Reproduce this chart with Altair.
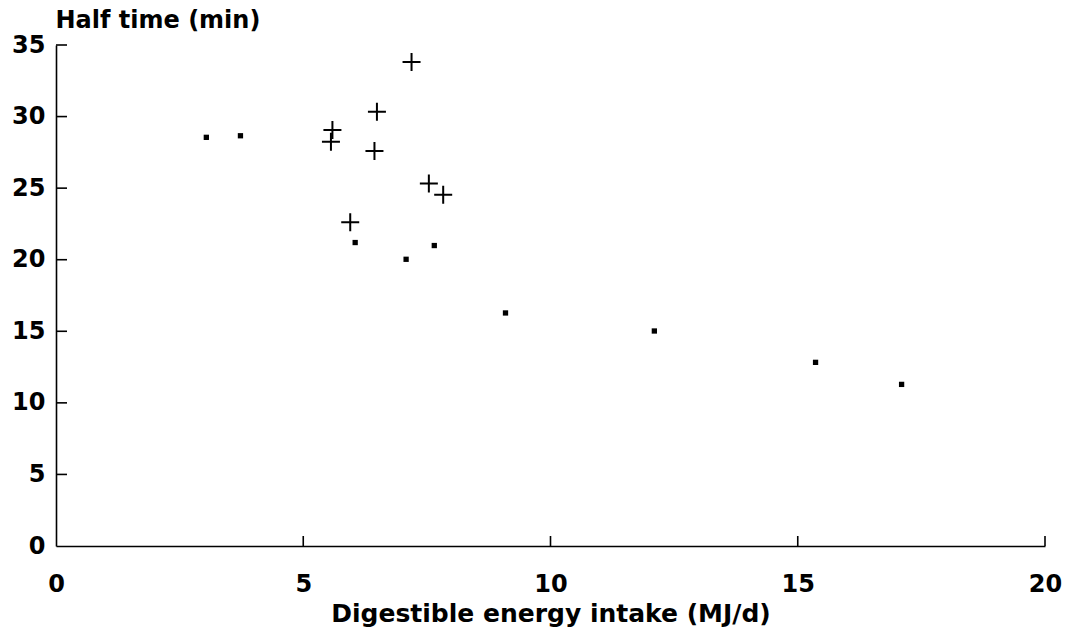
import altair as alt
import pandas as pd

# Digestible energy intake (MJ/d) and half time (min) for the two groups
square_x = [3.04, 3.73, 6.05, 7.08, 7.65, 9.09, 12.10, 15.36, 17.10]
square_y = [28.55, 28.66, 21.20, 20.03, 20.99, 16.28, 15.02, 12.83, 11.29]
cross_x = [7.19, 6.49, 5.59, 5.56, 6.44, 7.54, 7.83, 5.95]
cross_y = [33.81, 30.34, 29.06, 28.24, 27.59, 25.33, 24.53, 22.62]

x_ticks = [0, 5, 10, 15, 20]
y_ticks = [0, 5, 10, 15, 20, 25, 30, 35]

X_TITLE = "Digestible energy intake (MJ/d)"
Y_TITLE = "Half time (min)"

FONT = "DejaVu Sans"
W, H = 989, 501

squares = pd.DataFrame({"energy": square_x, "half": square_y})
crosses = pd.DataFrame({"energy": cross_x, "half": cross_y})
xt = pd.DataFrame({"energy": x_ticks[1:]})
yt = pd.DataFrame({"half": y_ticks[1:]})

xscale = alt.Scale(domain=[0, 20], nice=False, zero=False)
yscale = alt.Scale(domain=[0, 35], nice=False, zero=False)

x_axis = alt.Axis(
    values=x_ticks, format="d", grid=False, tickSize=0, labelPadding=26,
    labelFlush=False,
    labelFont=FONT, labelFontSize=24, labelFontWeight="bold", labelColor="black",
    domainColor="black", domainWidth=1.6,
    titleFont=FONT, titleFontSize=25, titleFontWeight="bold", titleColor="black",
    titleBaseline="alphabetic", titleY=75,
)
y_axis = alt.Axis(
    values=y_ticks, format="d", grid=False, tickSize=0, labelPadding=11,
    labelFlush=False,
    labelFont=FONT, labelFontSize=24, labelFontWeight="bold", labelColor="black",
    labelBaseline="middle",
    domainColor="black", domainWidth=1.6,
    titleFont=FONT, titleFontSize=24, titleFontWeight="bold", titleColor="black",
    titleAngle=0, titleAlign="left", titleBaseline="alphabetic",
    titleX=-1, titleY=-18,
)

X = alt.X("energy:Q", scale=xscale, axis=x_axis, title=X_TITLE)
Y = alt.Y("half:Q", scale=yscale, axis=y_axis, title=Y_TITLE)

sq = alt.Chart(squares).mark_point(
    shape="square", filled=True, color="black", size=28, opacity=1
).encode(x=X, y=Y)

cr = alt.Chart(crosses).mark_point(
    shape="M-1,0L1,0M0,-1L0,1", filled=False, color="black",
    size=324, strokeWidth=2, opacity=1
).encode(x=X, y=Y)

# inward-pointing tick marks
xtick_marks = alt.Chart(xt).mark_rule(color="black", strokeWidth=1.6).encode(
    x=X,
    y=alt.value(H),
    y2=alt.value(H - 10),
)
ytick_marks = alt.Chart(yt).mark_rule(color="black", strokeWidth=1.6).encode(
    y=Y,
    x=alt.value(0),
    x2=alt.value(11),
)

chart = alt.layer(sq, cr, xtick_marks, ytick_marks).properties(
    width=W, height=H,
    autosize=alt.AutoSizeParams(type="none"),
    padding={"left": 56, "top": 45, "right": 25, "bottom": 85},
    background="white",
).configure_view(stroke=None)

chart.save("out.html", embed_options={"renderer": "svg", "actions": False})
